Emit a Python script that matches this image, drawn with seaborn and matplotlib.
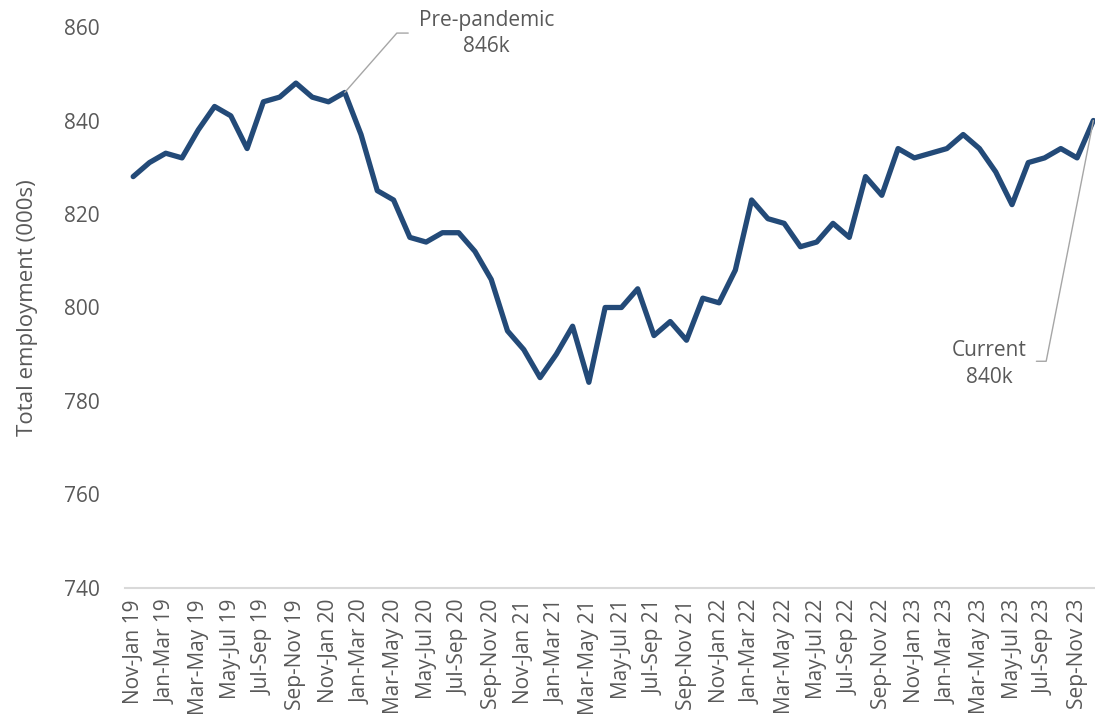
import numpy as np
import pandas as pd
import seaborn as sns
from matplotlib import pyplot as plt

# rolling three-month periods, Nov-Jan 19 to Oct-Dec 23
months = ["Jan", "Feb", "Mar", "Apr", "May", "Jun", "Jul", "Aug", "Sep", "Oct", "Nov", "Dec"]
periods = []
for year in range(19, 24):
    for m in range(12):
        start = months[(m - 2) % 12]
        end = months[m]
        periods.append(f"{start}-{end} {year}")

employment = [828, 831, 833, 832, 838, 843, 841, 834, 844, 845, 848, 845,
              844, 846, 837, 825, 823, 815, 814, 816, 816, 812, 806, 795,
              791, 785, 790, 796, 784, 800, 800, 804, 794, 797, 793, 802,
              801, 808, 823, 819, 818, 813, 814, 818, 815, 828, 824, 834,
              832, 833, 834, 837, 834, 829, 822, 831, 832, 834, 832, 840]

df = pd.DataFrame({"period": periods, "employment": employment})
df["pos"] = np.arange(len(df))

sns.set_style("white")
plt.rcParams["font.family"] = ["Open Sans", "DejaVu Sans"]

grey = "#595959"
fig = plt.figure(figsize=(10.95, 7.22), dpi=100)
ax = fig.add_axes([0.1142, 0.1856, 0.8858, 0.777])

sns.lineplot(data=df, x="pos", y="employment", color="#234A78", linewidth=3.8,
             ax=ax, solid_joinstyle="round", solid_capstyle="round", clip_on=False)

ax.set_xlim(-0.5, 59.1)
ax.set_ylim(740, 860)
ax.set_yticks(range(740, 861, 20))
ax.set_xticks(df["pos"][::2])
ax.set_xticklabels(df["period"][::2], rotation=90)
ax.tick_params(axis="both", length=0, colors=grey, labelsize=15)
ax.tick_params(axis="y", pad=18)
ax.tick_params(axis="x", pad=8)

ax.set_xlabel("")
ax.set_ylabel("Total employment (000s)", color=grey, fontsize=16, labelpad=19)

for side in ["left", "right", "top"]:
    ax.spines[side].set_visible(False)
ax.spines["bottom"].set_color("#D9D9D9")
ax.spines["bottom"].set_linewidth(1.5)

# leader-line annotations
pre = df.iloc[13]
ax.plot([pre["pos"], 16.2, 16.9], [pre["employment"], 858.7, 858.7], color="#A6A6A6", lw=1)
ax.text(21.7, 858.6, "Pre-pandemic\n846k", color=grey, fontsize=15,
        ha="center", va="center", linespacing=1.35)

cur = df.iloc[59]
ax.plot([cur["pos"], 56.1, 55.5], [cur["employment"], 788.5, 788.5], color="#A6A6A6", lw=1,
        clip_on=False)
ax.text(52.6, 787.9, "Current\n840k", color=grey, fontsize=15,
        ha="center", va="center", linespacing=1.35)

fig.savefig("out.png", dpi=100)
